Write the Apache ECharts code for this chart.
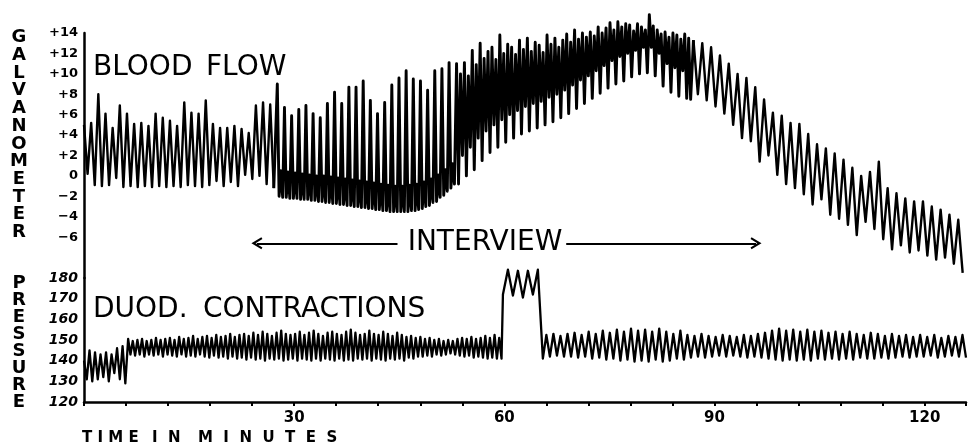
<!DOCTYPE html>
<html><head><meta charset="utf-8">
<script src="https://cdn.jsdelivr.net/npm/echarts@6/dist/echarts.min.js"></script>
<style>html,body{margin:0;padding:0;background:#fff}#c{width:969px;height:445px}</style>
</head><body><div id="c"></div>
<script>
// ---------- tick labels ----------
const timeTickLabels = [30, 60, 90, 120];
const galvTickValues = [14, 12, 10, 8, 6, 4, 2, 0, -2, -4, -6];
const galvTickLabels = ['+14', '+12', '+10', '+8', '+6', '+4', '+2', '0', '\u22122', '\u22124', '\u22126'];
const pressureTickValues = [180, 170, 160, 150, 140, 130, 120];

// ---------- blood flow (galvanometer) trace, alternating extremes ----------
const flowATimes = [0, 27.0];
const flowA = [5.0, 0.2, 5.2, -0.9, 8.0, -1.0, 6.1, -0.9, 4.7, -0.2, 6.9, -1.1, 6.1, -1.0, 5.1, -1.1,
  5.2, -1.0, 4.9, -1.1, 6.1, -1.0, 5.7, -1.1, 5.4, -1.0, 4.9, -1.1, 7.2, -0.9, 6.2, -1.0, 6.1, -1.1,
  7.4, -0.9, 5.1, -0.5, 4.7, -1.0, 4.7, -0.6, 4.9, -1.0, 4.6, 0.1, 4.2, -0.3, 6.9, 0.0, 7.2, -0.8, 7.0, -1.2];

const flowB1Times = [27.5, 52.7];
const flowB1 = [9.0, -2.0, 0.5, -2.1, 6.7, -2.1, 0.4, -2.2, 5.9, -2.2, 0.3, -2.2, 6.5, -2.3, 0.2, -2.3, 6.9, -2.3, 0.1, -2.4,
  6.1, -2.4, 0.0, -2.5, 5.7, -2.5, 0.0, -2.6, 7.1, -2.6, -0.1, -2.7, 8.2, -2.7, -0.2, -2.8, 7.1, -2.8, -0.3, -2.9,
  8.7, -2.9, -0.4, -3.0, 8.7, -3.0, -0.5, -3.1, 9.3, -3.1, -0.6, -3.2, 7.4, -3.2, -0.7, -3.3, 6.1, -3.3, -0.8, -3.4,
  7.2, -3.4, -0.9, -3.5, 8.9, -3.5, -1.0, -3.5, 9.6, -3.5, -1.0, -3.5, 10.3, -3.5, -0.9, -3.4, 9.5, -3.4, -0.8, -3.3,
  9.3, -3.2, -0.6, -3.0, 8.4, -2.9, -0.3, -2.6, 10.3, -2.5, 0.1, -2.1, 10.5, -1.9, 0.6, -1.5, 11.1, -1.2, 1.2, -0.8];

const flowB2Times = [53.0, 86.3];
const flowB2Peaks = [11.0, 10.0, 11.1, 9.8, 12.3, 10.9, 13.0, 11.5, 12.2, 12.6, 11.4, 13.8, 12.0, 12.9, 12.6, 11.9, 13.3, 12.4, 13.5, 12.2,
  13.1, 12.8, 12.1, 13.8, 12.9, 13.5, 12.6, 13.3, 13.9, 13.1, 14.3, 13.4, 14.0, 13.6, 14.1, 13.7, 14.6, 14.0, 14.5, 15.0,
  14.3, 15.1, 14.6, 14.9, 14.8, 14.2, 14.9, 14.6, 14.3, 15.8, 14.7, 14.3, 13.9, 14.1, 13.6, 14.0, 13.8, 13.4, 13.9, 13.5];
const flowB2Troughs = [-0.8, 2.0, 0.0, 2.8, 0.6, 3.7, 1.5, 4.4, 2.3, 5.0, 2.8, 5.5, 3.3, 6.0, 3.7, 6.4, 4.1, 6.8, 4.4, 7.1,
  4.7, 7.3, 5.0, 7.7, 5.3, 8.0, 5.7, 8.4, 6.1, 8.9, 6.6, 9.4, 7.1, 9.8, 7.6, 10.3, 8.1, 10.8, 8.6, 11.3,
  9.0, 11.7, 9.3, 12.0, 9.7, 12.3, 10.0, 12.6, 10.1, 12.6, 9.8, 12.0, 8.8, 11.0, 8.2, 10.6, 7.8, 10.3, 7.6, 7.5];

const flowCTimes = [86.7, 125.0];
const flowCPeaks = [13.3, 13.0, 12.6, 11.8, 11.0, 10.0, 9.6, 8.7, 7.5, 6.2, 5.9, 5.2, 5.1, 4.1, 3.1, 2.7, 2.2, 1.6, 0.8, 0.0,
  0.4, 1.4, -1.2, -1.7, -2.2, -2.5, -2.5, -3.0, -3.3, -3.8, -4.3];
const flowCTroughs = [8.0, 7.4, 6.8, 6.1, 5.0, 3.7, 3.4, 1.4, 2.0, 0.1, -0.8, -1.2, -1.8, -2.8, -2.3, -3.8, -4.2, -4.8, -5.8, -4.5,
  -5.2, -6.2, -7.2, -6.8, -7.5, -7.3, -7.8, -8.2, -8.0, -8.6, -9.5];

// ---------- duodenal pressure trace, alternating extremes ----------
const duodATimes = [0, 5.9];
const duodA = [140, 131, 145, 130, 144, 131, 143, 132, 144, 130, 143, 134, 146, 131, 147, 129];

const duodBTimes = [6.3, 59.6];
const duodB = [150.5, 143, 149.5, 142.5, 150, 143, 150.5, 142, 149.5, 143, 150, 142.5, 151, 143, 150, 142, 150.5, 143,
  151, 142.5, 150, 142, 151.5, 143, 150.5, 142, 151, 142.5, 152, 142, 150.5, 143, 151.5, 142, 152, 141.5,
  151, 142.5, 152.5, 141.5, 151.5, 142, 152, 141, 153, 142, 151.5, 141, 152.5, 141.5, 153, 140.5, 152, 141.5,
  153.5, 140.5, 152.5, 141, 154, 140, 153, 141, 152, 140.5, 153.5, 141, 154.5, 140, 153, 140.5, 152.5, 141,
  153, 140, 154, 141, 152.5, 140.5, 153.5, 140, 154.5, 141, 153, 140, 152, 141, 153.5, 140.5, 154, 140,
  153, 141, 152.5, 140, 154, 140.5, 155, 140, 153.5, 141, 152.5, 140.5, 153, 141, 154.5, 140, 153, 141,
  152.5, 140.5, 154, 140, 153, 141, 152, 140.5, 153.5, 141, 152.5, 140, 151.5, 141.5, 152, 141, 151, 142,
  151.5, 142, 150.5, 142.5, 151, 142, 150, 143, 150.5, 142.5, 149.5, 143, 150, 143.5, 149.5, 143, 150.5, 142.5,
  151, 142, 150.5, 142.5, 151.5, 141.5, 150.5, 142, 151, 141.5, 152, 141, 151, 141.5, 152.5, 141, 151, 141];

const duodCTimes = [59.8, 65.5];
const duodC = [172, 184, 171.5, 183.5, 170.5, 183.5, 172, 184, 141];

const duodDTimes = [66.0, 125.9];
const duodD = [152.5, 142, 153, 142.5, 152, 142, 153, 142, 153.5, 141.5, 152.5, 142, 154, 141, 153, 141.5, 154.5, 140.5, 153.5, 141,
  155, 140, 154, 140.5, 155.5, 139.5, 154.5, 140, 155, 139.5, 154, 140.5, 155.5, 139.5, 154, 140, 153, 141, 154.5, 140.5,
  152.5, 141.5, 152, 142, 153, 141.5, 152, 142, 151.5, 142.5, 152.5, 142, 152, 142.5, 151.5, 142, 152.5, 141.5, 152, 142,
  153, 141.5, 153.5, 141, 154.5, 140.5, 155.5, 140, 154.5, 140.5, 155, 140, 154, 140.5, 155, 140, 154, 141, 154.5, 140.5,
  153.5, 141, 154, 140.5, 153, 141, 154, 140.5, 153, 141.5, 152.5, 141, 153.5, 141, 153, 141.5, 152, 141, 153, 141.5,
  152, 142, 152.5, 141.5, 151.5, 142, 152.5, 142, 151.5, 142.5, 152.5, 141.5, 151, 142, 152, 142.5, 151.5, 142, 152.5, 141.5];

// ---------- interview arrow (minutes, galvanometer units) ----------
const interviewLeftArrow = [24.6, 44.6];
const interviewRightArrow = [68.6, 95.6];
const interviewLevel = -6.6;

// ---------- helpers ----------
function spread(times, vals) {
  const n = vals.length, t0 = times[0], t1 = times[1];
  return vals.map((v, i) => [t0 + (t1 - t0) * i / (n - 1), v]);
}
function interleave(a, b) {
  const out = [];
  for (let i = 0; i < a.length; i++) { out.push(a[i]); if (i < b.length) out.push(b[i]); }
  return out;
}
const flowEarly = spread(flowATimes, flowA);
const flowLate = spread(flowCTimes, interleave(flowCPeaks, flowCTroughs));
// the dense interview part, joined to its neighbours so the trace stays continuous
const flowDense = [].concat(
  [flowEarly[flowEarly.length - 1]],
  spread(flowB1Times, flowB1),
  spread(flowB2Times, interleave(flowB2Peaks, flowB2Troughs)),
  [flowLate[0]]
);
const duodData = [].concat(
  spread(duodATimes, duodA),
  spread(duodBTimes, duodB),
  spread(duodCTimes, duodC),
  spread(duodDTimes, duodD)
);

const chev = 'path://M6,0L12,10.5L10.3,11.6L6,4.4L1.7,11.6L0,10.5Z';
const FONT = '"DejaVu Sans", sans-serif';
const traceBase = { type: 'line', showSymbol: false, silent: true, clip: false };

const chart = echarts.init(document.getElementById('c'), null, { renderer: 'canvas' });
chart.setOption({
  animation: false,
  backgroundColor: '#fff',
  grid: [
    { left: 84, right: 0, top: 33, height: 245 },
    { left: 84, right: 0, top: 278, height: 124 }
  ],
  xAxis: [
    { gridIndex: 0, type: 'value', min: 0, max: 125.9, show: false },
    { gridIndex: 1, type: 'value', min: 0, max: 125.9, interval: 6,
      axisLine: { show: true, onZero: false, lineStyle: { color: '#000', width: 2.5 } },
      axisTick: { show: true, length: 4, lineStyle: { color: '#000', width: 2 } },
      splitLine: { show: false },
      axisLabel: { color: '#000', fontFamily: FONT, fontWeight: 'bold', fontSize: 15, margin: 9,
        formatter: v => timeTickLabels.includes(v) ? String(v) : '' } }
  ],
  yAxis: [
    { gridIndex: 0, type: 'value', min: -10, max: 14, interval: 2,
      axisLine: { show: true, onZero: false, lineStyle: { color: '#000', width: 2.5 } },
      axisTick: { show: false }, splitLine: { show: false },
      axisLabel: { color: '#000', fontFamily: FONT, fontWeight: 'bold', fontSize: 13, margin: 6,
        formatter: v => { const i = galvTickValues.indexOf(v); return i >= 0 ? galvTickLabels[i] : ''; } } },
    { gridIndex: 1, type: 'value', min: 120, max: 180, interval: 10,
      axisLine: { show: true, onZero: false, lineStyle: { color: '#000', width: 2.5 } },
      axisTick: { show: false }, splitLine: { show: false },
      axisLabel: { color: '#000', fontFamily: FONT, fontWeight: 'bold', fontStyle: 'italic', fontSize: 14, margin: 6,
        formatter: v => pressureTickValues.includes(v) ? String(v) : '' } }
  ],
  series: [
    Object.assign({}, traceBase, { name: 'flowEarly', xAxisIndex: 0, yAxisIndex: 0, data: flowEarly,
      lineStyle: { color: '#000', width: 2.4, join: 'round' },
      markLine: { silent: true, animation: false, symbolSize: [12, 11],
        lineStyle: { color: '#000', width: 2.2, type: 'solid' }, label: { show: false },
        data: [
          [{ coord: [interviewLeftArrow[0], interviewLevel], symbol: chev }, { coord: [interviewLeftArrow[1], interviewLevel], symbol: 'none' }],
          [{ coord: [interviewRightArrow[0], interviewLevel], symbol: 'none' }, { coord: [interviewRightArrow[1], interviewLevel], symbol: chev }]
        ] } }),
    Object.assign({}, traceBase, { name: 'flowDense', xAxisIndex: 0, yAxisIndex: 0, data: flowDense,
      lineStyle: { color: '#000', width: 2.9, join: 'round' } }),
    Object.assign({}, traceBase, { name: 'flowLate', xAxisIndex: 0, yAxisIndex: 0, data: flowLate,
      lineStyle: { color: '#000', width: 2.4, join: 'round' } }),
    Object.assign({}, traceBase, { name: 'duod', xAxisIndex: 1, yAxisIndex: 1, data: duodData,
      lineStyle: { color: '#000', width: 2.3, join: 'round' } })
  ],
  graphic: [
    { type: 'text', x: 93, y: 68, style: { text: 'BLOOD', font: '28px ' + FONT, fill: '#000', verticalAlign: 'middle' } },
    { type: 'text', x: 206, y: 68, style: { text: 'FLOW', font: '28px ' + FONT, fill: '#000', verticalAlign: 'middle' } },
    { type: 'text', x: 93, y: 310, style: { text: 'DUOD.', font: '28px ' + FONT, fill: '#000', verticalAlign: 'middle' } },
    { type: 'text', x: 203, y: 310, style: { text: 'CONTRACTIONS', font: '28px ' + FONT, fill: '#000', verticalAlign: 'middle' } },
    { type: 'text', x: 485, y: 243, style: { text: 'INTERVIEW', font: '28px ' + FONT, fill: '#000', align: 'center', verticalAlign: 'middle' } },
    { type: 'text', x: 82, y: 438, style: { text: 'T I M E', font: 'bold 15px ' + FONT, fill: '#000', verticalAlign: 'middle' } },
    { type: 'text', x: 152, y: 438, style: { text: 'I  N', font: 'bold 15px ' + FONT, fill: '#000', verticalAlign: 'middle' } },
    { type: 'text', x: 198, y: 438, style: { text: 'M  I  N  U  T  E  S', font: 'bold 15px ' + FONT, fill: '#000', verticalAlign: 'middle' } },
    { type: 'text', x: 19, y: 135, style: { text: 'GALVANOMETER'.split('').join('\n'), font: 'bold 18px ' + FONT, lineHeight: 17.7, fill: '#000', align: 'center', verticalAlign: 'middle' } },
    { type: 'text', x: 19, y: 343, style: { text: 'PRESSURE'.split('').join('\n'), font: 'bold 18px ' + FONT, lineHeight: 17, fill: '#000', align: 'center', verticalAlign: 'middle' } }
  ]
});
</script></body></html>
